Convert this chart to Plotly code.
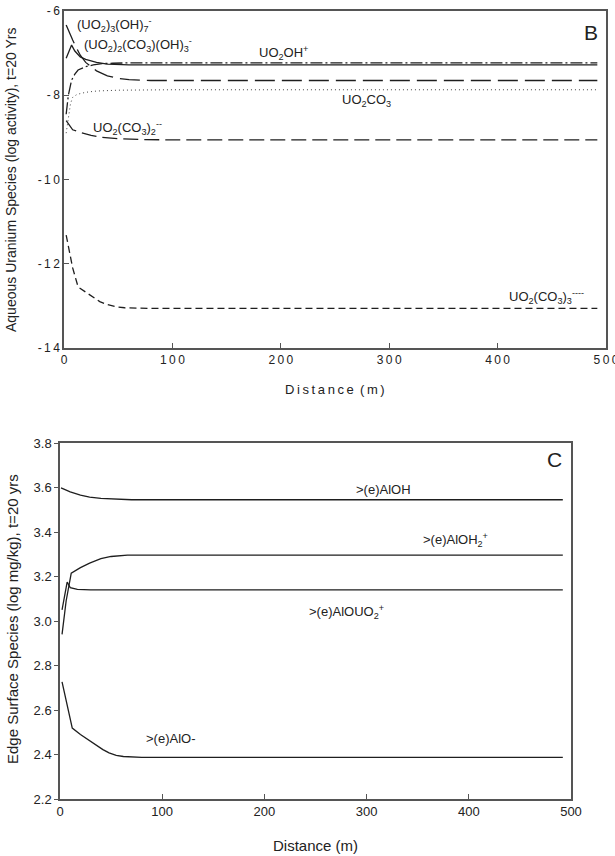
import plotly.graph_objects as go

# ---------------- Panel B data (log activity) ----------------
x_u3oh7 = [2, 5, 8, 12, 15, 20, 25, 30, 40, 50, 60, 70, 80, 100, 200, 300, 400, 492]
y_u3oh7 = [-6.33, -6.52, -6.69, -6.90, -7.05, -7.22, -7.33, -7.42, -7.54, -7.60, -7.63, -7.64, -7.65, -7.65, -7.65, -7.65, -7.65, -7.65]

x_u2co3oh3 = [2, 4, 7, 10, 15, 20, 25, 30, 40, 50, 60, 80, 100, 200, 300, 400, 492]
y_u2co3oh3 = [-7.12, -7.0, -6.81, -6.95, -7.09, -7.15, -7.19, -7.22, -7.26, -7.27, -7.28, -7.28, -7.28, -7.28, -7.28, -7.28, -7.28]

x_uo2oh = [2, 4, 7, 10, 13, 20, 27, 35, 45, 60, 100, 200, 300, 400, 492]
y_uo2oh = [-8.45, -8.0, -7.64, -7.50, -7.40, -7.32, -7.28, -7.25, -7.24, -7.23, -7.23, -7.23, -7.23, -7.23, -7.23]

x_uo2co3 = [2, 4, 6, 8, 12, 20, 30, 50, 100, 200, 300, 400, 492]
y_uo2co3 = [-8.9, -8.5, -8.2, -8.05, -7.98, -7.93, -7.90, -7.88, -7.87, -7.87, -7.87, -7.87, -7.87]

x_uo2co32 = [2, 5, 8, 15, 25, 35, 50, 70, 100, 200, 300, 400, 492]
y_uo2co32 = [-8.60, -8.70, -8.82, -8.88, -8.95, -9.00, -9.03, -9.05, -9.06, -9.06, -9.06, -9.06, -9.06]

x_uo2co33 = [2, 5, 8, 13, 20, 26, 33, 40, 48, 56, 66, 80, 100, 200, 300, 400, 492]
y_uo2co33 = [-11.32, -11.70, -12.10, -12.55, -12.68, -12.79, -12.90, -12.97, -13.02, -13.045, -13.055, -13.06, -13.06, -13.06, -13.06, -13.06, -13.06]

# ---------------- Panel C data (log mg/kg) ----------------
x_aloh = [1, 5, 10, 20, 29, 40, 55, 70, 100, 200, 300, 400, 492]
y_aloh = [3.598, 3.590, 3.580, 3.566, 3.557, 3.551, 3.547, 3.545, 3.545, 3.545, 3.545, 3.545, 3.545]

x_aloh2 = [2, 6, 11, 20, 29, 40, 50, 58, 66, 80, 100, 200, 300, 400, 492]
y_aloh2 = [2.94, 3.09, 3.215, 3.24, 3.26, 3.28, 3.29, 3.294, 3.296, 3.296, 3.296, 3.296, 3.296, 3.296, 3.296]

x_alouo2 = [2, 7, 10, 17, 30, 50, 100, 200, 300, 400, 492]
y_alouo2 = [3.05, 3.175, 3.15, 3.142, 3.14, 3.14, 3.14, 3.14, 3.14, 3.14, 3.14]

x_alo = [2, 12, 20, 29, 36, 42, 48, 55, 62, 70, 80, 100, 200, 300, 400, 492]
y_alo = [2.726, 2.519, 2.49, 2.462, 2.44, 2.422, 2.407, 2.396, 2.391, 2.388, 2.387, 2.387, 2.387, 2.387, 2.387, 2.387]

# tick labels
b_xticks = [0, 100, 200, 300, 400, 500]
b_yticks = [-6, -8, -10, -12, -14]
c_xticks = [0, 100, 200, 300, 400, 500]
c_yticks = [2.2, 2.4, 2.6, 2.8, 3.0, 3.2, 3.4, 3.6, 3.8]

TS = "\u2009"
def spaced(s):
    return TS.join(list(s))

FONT = "Liberation Sans, Arial, sans-serif"
LC = "#1e1e1e"
AX = "#555555"
W = 615
H = 856

fig = go.Figure()

def add(x, y, dash, xa, ya, width=1.3, color=LC):
    fig.add_trace(go.Scatter(x=x, y=y, mode="lines", xaxis=xa, yaxis=ya,
                             line=dict(color=color, width=width, dash=dash),
                             showlegend=False, hoverinfo="skip", cliponaxis=False))

add(x_u3oh7, y_u3oh7, "20px,7px", "x", "y")
add(x_u2co3oh3, y_u2co3oh3, "solid", "x", "y")
add(x_uo2oh, y_uo2oh, "12px,3px,2px,3px", "x", "y")
add(x_uo2co3, y_uo2co3, "1px,3px", "x", "y", width=1.0, color="#444")
add(x_uo2co32, y_uo2co32, "15px,6px", "x", "y")
add(x_uo2co33, y_uo2co33, "7px,4px", "x", "y")

add(x_aloh, y_aloh, "solid", "x2", "y2")
add(x_aloh2, y_aloh2, "solid", "x2", "y2")
add(x_alouo2, y_alouo2, "solid", "x2", "y2")
add(x_alo, y_alo, "solid", "x2", "y2")

def px_x(p):
    return p / W

def px_y(p):
    return 1 - p / H

axis_common = dict(showline=True, linecolor=AX, linewidth=1.5, mirror=True,
                   showgrid=False, zeroline=False, ticklen=5, tickcolor=AX,
                   automargin=False, ticklabeloverflow="allow",
                   tickfont=dict(family=FONT, size=12, color="#222"))

fig.update_layout(
    width=W, height=H, autosize=False,
    margin=dict(l=0, r=0, t=0, b=0, pad=0, autoexpand=False),
    paper_bgcolor="white", plot_bgcolor="white",
    xaxis=dict(domain=[px_x(64), px_x(606)], range=[0, 500], anchor="y",
               tickvals=b_xticks, ticktext=[spaced(str(v)) for v in b_xticks],
               ticks="inside", **axis_common),
    yaxis=dict(domain=[px_y(348), px_y(11)], range=[-14, -6], anchor="x",
               tickvals=b_yticks, ticktext=[spaced(str(v)) for v in b_yticks],
               ticks="inside", **axis_common),
    xaxis2=dict(domain=[px_x(60), px_x(571)], range=[0, 500], anchor="y2",
                tickvals=c_xticks, ticks="inside", **{**axis_common, "tickfont": dict(family=FONT, size=13, color="#222")}),
    yaxis2=dict(domain=[px_y(799), px_y(443)], range=[2.2, 3.8], anchor="x2",
                tickvals=c_yticks, ticktext=[f"{v:.1f}" for v in c_yticks],
                ticks="outside", **{**axis_common, "ticklen": 4, "tickfont": dict(family=FONT, size=13, color="#222")}),
)

def lab(text, x, y, xa, ya, size=13, xanchor="left"):
    fig.add_annotation(text=text, x=x, y=y, xref=xa, yref=ya, showarrow=False,
                       xanchor=xanchor, yanchor="middle",
                       font=dict(family=FONT, size=size, color="#222"))

# Panel B labels
lab("(UO<sub>2</sub>)<sub>3</sub>(OH)<sub>7</sub><sup>-</sup>", 10.5, -6.33, "x", "y")
lab("(UO<sub>2</sub>)<sub>2</sub>(CO<sub>3</sub>)(OH)<sub>3</sub><sup>-</sup>", 17, -6.8, "x", "y")
lab("UO<sub>2</sub>OH<sup>+</sup>", 178, -7.0, "x", "y")
lab("UO<sub>2</sub>CO<sub>3</sub>", 255, -8.12, "x", "y")
lab("UO<sub>2</sub>(CO<sub>3</sub>)<sub>2</sub><sup>--</sup>", 25, -8.78, "x", "y")
lab("UO<sub>2</sub>(CO<sub>3</sub>)<sub>3</sub><sup>----</sup>", 409, -12.79, "x", "y")
lab("B", 478, -6.5, "x", "y", size=21)

# Panel C labels
lab(">(e)AlOH", 317, 3.593, "x2", "y2", size=13, xanchor="center")
lab(">(e)AlOH<sub>2</sub><sup>+</sup>", 387, 3.364, "x2", "y2", size=13, xanchor="center")
lab(">(e)AlOUO<sub>2</sub><sup>+</sup>", 280, 3.04, "x2", "y2", size=13, xanchor="center")
lab(">(e)AlO-", 108, 2.474, "x2", "y2", size=13, xanchor="center")
lab("C", 475, 3.725, "x2", "y2", size=21)

# Axis titles
def ttl(text, xp, yp, size, angle=0):
    fig.add_annotation(text=text, x=px_x(xp), y=px_y(yp), xref="paper", yref="paper",
                       showarrow=False, xanchor="center", yanchor="middle", textangle=angle,
                       font=dict(family=FONT, size=size, color="#222"))

ttl(spaced("Distance") + TS + " " + spaced("(m)"), 335, 389, 13)
ttl("Aqueous Uranium Species (log activity), t=20 Yrs", 11, 180, 14, -90)
ttl("Distance (m)", 315, 845, 15)
ttl("Edge Surface Species (log mg/kg), t=20 yrs", 12, 619, 15, -90)

fig.write_html(
    "out.html",
    post_script="document.documentElement.style.margin='0';document.body.style.margin='0';document.body.style.padding='0';document.body.style.overflow='hidden';",
)
